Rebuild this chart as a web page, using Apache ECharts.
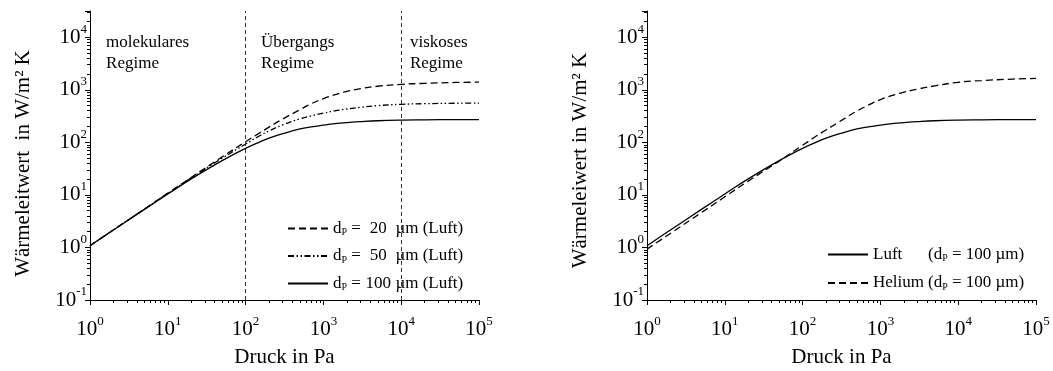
<!DOCTYPE html>
<html>
<head>
<meta charset="utf-8">
<script src="https://cdn.jsdelivr.net/npm/echarts@6/dist/echarts.min.js"></script>
<style>
  html, body { margin: 0; padding: 0; background: #fff; }
  #chart { width: 1053px; height: 371px; }
</style>
</head>
<body>
<div id="chart"></div>
<script>
// Pressure samples (Pa) shared by all curves
const pressure = [1, 2, 5, 10, 20, 50, 100, 150, 200, 300, 500, 700, 1000, 1500, 2000, 3000, 5000, 1e4, 2e4, 5e4, 1e5];

// Heat transfer coefficient in W/(m² K)
const luft20    = [1.08, 2.16, 5.4, 10.8, 21.5, 53, 103, 150, 195, 278, 420, 545, 680, 830, 930, 1050, 1170, 1270, 1330, 1380, 1400];
const luft50    = [1.08, 2.16, 5.35, 10.6, 21, 50, 93, 132, 165, 215, 280, 320, 360, 405, 430, 465, 500, 530, 545, 555, 560];
const luft100   = [1.08, 2.15, 5.3, 10.4, 20.2, 45, 77, 101, 120, 146, 180, 197, 212, 230, 238, 248, 258, 265, 268, 271, 272];
const helium100 = [0.93, 1.85, 4.6, 9.2, 18.3, 44, 88, 132, 172, 250, 395, 510, 650, 800, 900, 1030, 1190, 1390, 1500, 1600, 1650];

// Regime boundaries (Pa) and regime captions
const regimeBounds = [100, 1e4];
const regimeNames = ['molekulares\nRegime', 'Übergangs\nRegime', 'viskoses\nRegime'];
const regimeAnchors = [[1.61, 5060], [158, 5060], [12970, 5060]];

const SERIF = "'Liberation Serif', 'Times New Roman', serif";
const NAME20 = 'dP = 20 µm (Luft)';
const NAME50 = 'dP = 50 µm (Luft)';
const NAME100 = 'dP = 100 µm (Luft)';
const NAME_L = 'Luft (dP = 100 µm)';
const NAME_H = 'Helium (dP = 100 µm)';

const X_MIN = 1, X_MAX = 1e5, Y_MIN = 0.1, Y_MAX = Math.pow(10, 4.5);

const pairs = arr => pressure.map((p, i) => [p, arr[i]]);

// Intermediate log ticks (2..9 × 10^n) inside a range
function minorLogTicks(lo, hi) {
  const out = [];
  for (let d = Math.floor(Math.log10(lo)); d <= Math.ceil(Math.log10(hi)); d++) {
    for (let k = 2; k <= 9; k++) {
      const v = k * Math.pow(10, d);
      if (v > lo && v < hi) out.push(v);
    }
  }
  return out;
}

function powLabel(v) {
  const e = Math.log10(v);
  const r = Math.round(e);
  if (Math.abs(e - r) > 1e-6) return '';
  return '{b|10}{s|' + r + '}';
}
const powRich = {
  b: { fontFamily: SERIF, fontSize: 21, color: '#000' },
  s: { fontFamily: SERIF, fontSize: 13, color: '#000', padding: [0, 0, 16, 0] }
};

const lineBlack = { lineStyle: { color: '#000', width: 1 } };

function xAxisFor(gridIndex) {
  return {
    type: 'log', logBase: 10, min: X_MIN, max: X_MAX, gridIndex, position: 'bottom',
    name: 'Druck in Pa', nameLocation: 'middle', nameGap: 47,
    nameTextStyle: { fontFamily: SERIF, fontSize: 21, color: '#000' },
    axisLine: lineBlack,
    axisTick: { show: true, inside: false, length: 5, lineStyle: { color: '#000', width: 1 } },
    splitLine: { show: false },
    axisLabel: { margin: 15, formatter: powLabel, rich: powRich, color: '#000' }
  };
}
function xMinorAxisFor(gridIndex) {
  return {
    type: 'log', logBase: 10, min: X_MIN, max: X_MAX, gridIndex, position: 'bottom',
    axisLine: { show: false },
    axisTick: { show: true, inside: false, length: 3, customValues: minorLogTicks(X_MIN, X_MAX), lineStyle: { color: '#000', width: 1 } },
    axisLabel: { show: false },
    splitLine: { show: false }
  };
}
function yAxisFor(gridIndex, title, shift) {
  return {
    type: 'log', logBase: 10, min: Y_MIN, max: Y_MAX, gridIndex, position: 'left',
    name: title, nameLocation: 'middle', nameGap: 56,
    nameTextStyle: { fontFamily: SERIF, fontSize: 21, color: '#000', padding: [0, shift, 0, 0] },
    axisLine: lineBlack,
    axisTick: { show: true, inside: false, length: 5, lineStyle: { color: '#000', width: 1 } },
    splitLine: { show: false },
    axisLabel: { margin: 3, formatter: powLabel, rich: powRich, color: '#000' }
  };
}
function yMinorAxisFor(gridIndex) {
  return {
    type: 'log', logBase: 10, min: Y_MIN, max: Y_MAX, gridIndex, position: 'left',
    axisLine: { show: false },
    axisTick: { show: true, inside: false, length: 3, customValues: minorLogTicks(Y_MIN, Y_MAX), lineStyle: { color: '#000', width: 1 } },
    axisLabel: { show: false },
    splitLine: { show: false }
  };
}

const legendRich = {
  d: { fontFamily: SERIF, fontSize: 17, color: '#000' },
  p: { fontFamily: SERIF, fontSize: 10, color: '#000', padding: [8, 0, 0, 0] },
  t: { fontFamily: SERIF, fontSize: 17, color: '#000' },
  n: { fontFamily: SERIF, fontSize: 17, color: '#000', width: 26, align: 'right' },
  g: { fontFamily: SERIF, fontSize: 17, color: '#000', width: 55 }
};
const legendText = {
  [NAME20]: '{d|d}{p|P}{t| = }{n|20}{t| µm (Luft)}',
  [NAME50]: '{d|d}{p|P}{t| = }{n|50}{t| µm (Luft)}',
  [NAME100]: '{d|d}{p|P}{t| = }{n|100}{t| µm (Luft)}',
  [NAME_L]: '{g|Luft}{t|(d}{p|P}{t| = 100 µm)}',
  [NAME_H]: '{g|Helium}{t|(d}{p|P}{t| = 100 µm)}'
};

function curve(name, data, dash, xi, yi, extra) {
  return Object.assign({
    name, type: 'line', xAxisIndex: xi, yAxisIndex: yi,
    data: pairs(data), symbol: 'none', smooth: 0.45,
    lineStyle: { color: '#000', width: 1.3, type: dash },
    itemStyle: { color: '#000' },
    emphasis: { disabled: true },
    animation: false
  }, extra || {});
}

function legendFor(names, left, top, gap) {
  return {
    data: names, orient: 'vertical', left, top, padding: 0,
    itemWidth: 40, itemHeight: 20, itemGap: gap, selectedMode: false,
    itemStyle: { opacity: 0 },
    formatter: n => legendText[n], textStyle: { rich: legendRich, color: '#000' }
  };
}

const chart = echarts.init(document.getElementById('chart'), null, { renderer: 'canvas' });
chart.setOption({
  backgroundColor: '#fff',
  animation: false,
  grid: [
    { left: 90, top: 11, width: 389, height: 289, containLabel: false, outerBoundsMode: 'none' },
    { left: 647, top: 11, width: 389, height: 289, containLabel: false, outerBoundsMode: 'none' }
  ],
  xAxis: [xAxisFor(0), xAxisFor(1), xMinorAxisFor(0), xMinorAxisFor(1)],
  yAxis: [
    yAxisFor(0, 'Wärmeleitwert  in W/m² K', 16), yAxisFor(1, 'Wärmeleiwert in W/m² K', 10),
    yMinorAxisFor(0), yMinorAxisFor(1)
  ],
  legend: [
    legendFor([NAME20, NAME50, NAME100], 287, 220, 10),
    legendFor([NAME_L, NAME_H], 827, 246, 11)
  ],
  series: [
    curve(NAME20, luft20, [7, 4], 0, 0),
    curve(NAME50, luft50, [6, 2.5, 1.5, 2.5, 1.5, 2.5], 0, 0),
    curve(NAME100, luft100, 'solid', 0, 0, {
      markLine: {
        silent: true, symbol: 'none', animation: false,
        lineStyle: { color: '#333', width: 1, type: [4, 3] },
        label: { show: false },
        data: regimeBounds.map(b => ({ xAxis: b }))
      },
      markPoint: {
        silent: true, symbol: 'circle', symbolSize: 0, animation: false,
        label: {
          show: true, position: 'right', distance: 0, formatter: '{b}',
          fontFamily: SERIF, fontSize: 17, lineHeight: 21, color: '#000', align: 'left'
        },
        data: regimeNames.map((n, i) => ({ name: n, coord: regimeAnchors[i] }))
      }
    }),
    curve(NAME_L, luft100, 'solid', 1, 1),
    curve(NAME_H, helium100, [7, 4], 1, 1)
  ]
});
</script>
</body>
</html>
